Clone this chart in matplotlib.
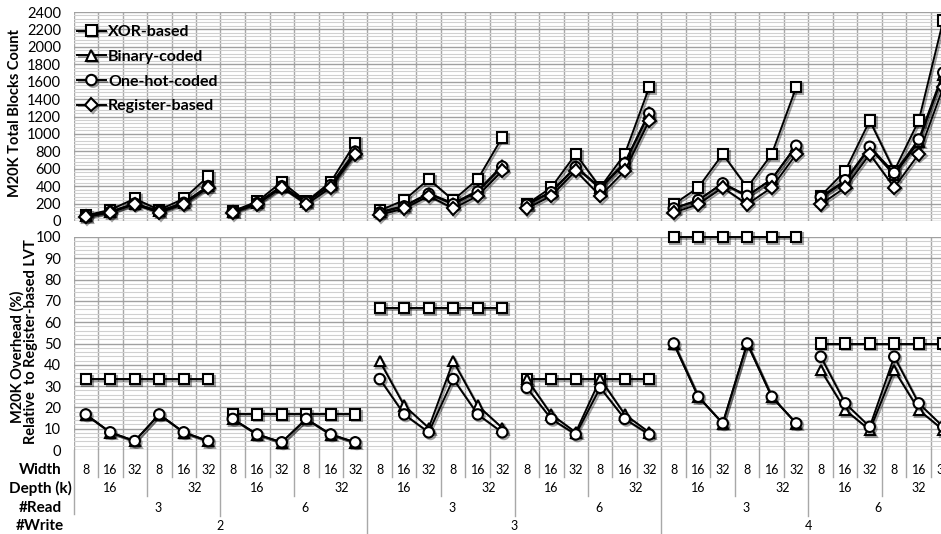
import matplotlib
matplotlib.use("Agg")
import matplotlib.pyplot as plt
import matplotlib.patheffects as pe
from matplotlib import transforms

plt.rcParams["font.family"] = ["Lato", "DejaVu Sans"]

# x categories: 6 groups (#Write, #Read) x depth (16k, 32k) x width (8, 16, 32)
WIDTHS = ["8", "16", "32"]
DEPTHS = ["16", "32"]
READS = ["3", "6", "3", "6", "3", "6"]
WRITES = ["2", "3", "4"]

# M20K total blocks count (top panel)
xor_blocks = [64, 128, 256, 128, 256, 512,
              112, 224, 448, 224, 448, 896,
              120, 240, 480, 240, 480, 960,
              192, 384, 768, 384, 768, 1536,
              192, 384, 768, 384, 768, 1536,
              288, 576, 1152, 576, 1152, 2304]
bin_blocks = [56, 104, 200, 112, 208, 400,
              110, 206, 398, 220, 412, 796,
              102, 174, 318, 204, 348, 636,
              192, 336, 624, 384, 672, 1248,
              144, 240, 432, 288, 480, 864,
              264, 456, 840, 528, 912, 1680]
hot_blocks = [56, 104, 200, 112, 208, 400,
              110, 206, 398, 220, 412, 796,
              96, 168, 312, 192, 336, 624,
              186, 330, 618, 372, 660, 1236,
              144, 240, 432, 288, 480, 864,
              276, 468, 852, 552, 936, 1704]
reg_blocks = [48, 96, 192, 96, 192, 384,
              96, 192, 384, 192, 384, 768,
              72, 144, 288, 144, 288, 576,
              144, 288, 576, 288, 576, 1152,
              96, 192, 384, 192, 384, 768,
              192, 384, 768, 384, 768, 1536]

# M20K overhead (%) relative to register-based LVT (bottom panel)
xor_ovh = [33.3] * 6 + [16.7] * 6 + [66.7] * 6 + [33.3] * 6 + [100] * 6 + [50] * 6
bin_ovh = [16.7, 8.3, 4.2, 16.7, 8.3, 4.2,
           14.6, 7.3, 3.6, 14.6, 7.3, 3.6,
           41.7, 20.8, 10.4, 41.7, 20.8, 10.4,
           33.3, 16.7, 8.3, 33.3, 16.7, 8.3,
           50, 25, 12.5, 50, 25, 12.5,
           37.5, 18.8, 9.4, 37.5, 18.8, 9.4]
hot_ovh = [16.7, 8.3, 4.2, 16.7, 8.3, 4.2,
           14.6, 7.3, 3.6, 14.6, 7.3, 3.6,
           33.3, 16.7, 8.3, 33.3, 16.7, 8.3,
           29.2, 14.6, 7.3, 29.2, 14.6, 7.3,
           50, 25, 12.5, 50, 25, 12.5,
           43.8, 21.9, 10.9, 43.8, 21.9, 10.9]

SERIES = [
    ("XOR-based", "s", xor_blocks, xor_ovh),
    ("Binary-coded", "^", bin_blocks, bin_ovh),
    ("One-hot-coded", "o", hot_blocks, hot_ovh),
    ("Register-based", "D", reg_blocks, None),
]

W_PX, H_PX = 941, 534
fig = plt.figure(figsize=(W_PX / 100, H_PX / 100), dpi=100)

def fy(px):
    return 1 - px / H_PX

left = 73.5 / W_PX
width = (955.5 - 73.5) / W_PX
ax1 = fig.add_axes([left, fy(221), width, (221 - 12) / H_PX])
ax2 = fig.add_axes([left, fy(450), width, (450 - 237) / H_PX])

n = len(xor_blocks)
shadow = [pe.SimpleLineShadow(offset=(1.2, -1.2), shadow_color="k", alpha=0.35), pe.Normal()]

def draw(ax, vals, marker, label):
    ms = 6.5 if marker == "D" else 7.5
    for g in range(n // 6):
        xs = list(range(6 * g, 6 * g + 6))
        ax.plot(xs, vals[6 * g:6 * g + 6], color="black", lw=1.4, marker=marker,
                ms=ms, mfc="white", mec="black", mew=1.5, clip_on=False,
                label=label if g == 0 else None, path_effects=shadow, zorder=3)

for label, mk, blocks, ovh in SERIES:
    draw(ax1, blocks, mk, label)
    if ovh is not None:
        draw(ax2, ovh, mk, label)

def style(ax, ymax, major, minor):
    ax.set_xlim(-0.5, n - 0.5)
    ax.set_ylim(0, ymax)
    ax.set_yticks(range(0, ymax + 1, major))
    ax.set_yticks(range(0, ymax + 1, minor), minor=True)
    ax.set_xticks([])
    ax.set_xticks([i - 0.5 for i in range(n + 1)], minor=True)
    ax.grid(which="major", axis="y", color="#a0a0a0", lw=1.0)
    ax.grid(which="minor", axis="y", color="#d0d0d0", lw=0.8)
    ax.grid(which="minor", axis="x", color="#a8a8a8", lw=1.0)
    ax.set_axisbelow(True)
    for s in ax.spines.values():
        s.set_visible(False)
    ax.tick_params(which="both", length=0, labelsize=10.5, pad=9)

style(ax1, 2400, 200, 40)
style(ax2, 100, 10, 2)

ax1.legend(loc="upper left", bbox_to_anchor=(77 / W_PX, fy(25)), bbox_transform=fig.transFigure,
           frameon=False, borderaxespad=0, borderpad=0, handlelength=1.8,
           handletextpad=0.15, labelspacing=0.66, prop={"weight": "bold", "size": 11.5})

# axis titles
fig.text(15 / W_PX, fy(113), "M20K Total Blocks Count", rotation=90, ha="center",
         va="center", fontsize=10.5, fontweight="bold")
fig.text(17 / W_PX, fy(357), "M20K Overhead (%)", rotation=90, ha="center",
         va="center", fontsize=10.5, fontweight="bold")
fig.text(31 / W_PX, fy(342), "Relative  to Register-based LVT", rotation=90, ha="center",
         va="center", fontsize=10.5, fontweight="bold")

# category table under the bottom panel
for txt, ypx in [("Width", 470), ("Depth (k)", 488), ("#Read", 508), ("#Write", 526)]:
    fig.text(40 / W_PX, fy(ypx), txt, ha="center", va="center", fontsize=11, fontweight="bold")

tr = transforms.blended_transform_factory(ax2.transData, fig.transFigure)
line_kw = dict(color="#a8a8a8", lw=1.0, transform=tr, clip_on=False)

for i in range(n):
    ax2.text(i, fy(470), WIDTHS[i % 3], transform=tr, ha="center", va="center", fontsize=9)
for d in range(n // 3):
    shift = 0.45 if (d % 2 == 1 and d != n // 3 - 1) else 0
    ax2.text(3 * d + 1 + shift, fy(488), DEPTHS[d % 2], transform=tr,
             ha="center", va="center", fontsize=9)
for r, rl in enumerate(READS):
    shift = 0.45 if r != len(READS) - 1 else -0.15
    ax2.text(6 * r + 2.5 + shift, fy(508), rl, transform=tr, ha="center", va="center", fontsize=9)
for w, wl in enumerate(WRITES):
    ax2.text(12 * w + 5.5, fy(526), wl, transform=tr, ha="center", va="center", fontsize=9)

for b in range(n + 1):
    xb = b - 0.5
    if b % 12 == 0:
        bottom = 534 if b > 0 else 514
    elif b % 6 == 0:
        bottom = 516
    elif b % 3 == 0:
        bottom = 496
    else:
        bottom = 477
    ax2.plot([xb, xb], [fy(450), fy(bottom)], **line_kw)

fig.savefig("out.png", dpi=100)
